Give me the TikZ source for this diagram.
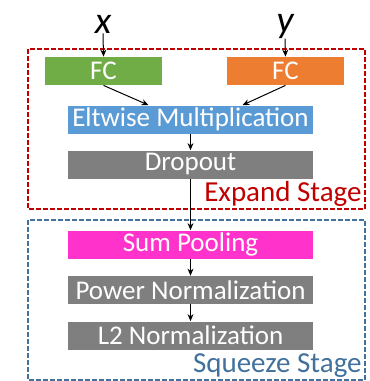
\documentclass[tikz,border=0pt]{standalone}
\usepackage{fontspec}
\setmainfont{Carlito}
\usetikzlibrary{arrows.meta,calc}

\definecolor{fcgreen}{HTML}{70AD47}
\definecolor{fcorange}{HTML}{ED7D31}
\definecolor{eltblue}{HTML}{5B9BD5}
\definecolor{boxgray}{HTML}{7F7F7F}
\definecolor{poolpink}{HTML}{FF33CC}
\definecolor{expandred}{HTML}{C00000}
\definecolor{squeezeblue}{HTML}{41719C}

\tikzset{
  box/.style={fill=#1, text=white, minimum width=122.5pt, minimum height=14pt,
              inner sep=0pt, font=\fontsize{13.5}{15}\selectfont},
  fcbox/.style={box=#1, minimum width=58.5pt},
  arr/.style={-{Stealth[length=3.5pt,width=3pt]}, line width=0.5pt},
  stage/.style={dashed, dash pattern=on 2.5pt off 1pt, line width=0.9pt},
  stagelabel/.style={anchor=south east, inner sep=0pt, font=\fontsize{14.5}{16}\selectfont}
}

\begin{document}
\begin{tikzpicture}[x=0.5pt,y=-0.5pt]

    \useasboundingbox (0,0) rectangle (370,381);

    %----- STAGE FRAMES -----
    \draw[stage, expandred] (28,49) rectangle (365,209);
    \draw[stage, squeezeblue] (28,220) rectangle (365,380);
    \node[stagelabel, text=expandred] (expand) at (362,207) {Expand Stage};
    \node[stagelabel, text=squeezeblue] (squeeze) at (362,378) {Squeeze Stage};

    %----- INPUTS -----
    \node[inner sep=0pt, font=\fontsize{19}{20}\selectfont\itshape] (x) at (103,24) {x};
    \node[inner sep=0pt, font=\fontsize{19}{20}\selectfont\itshape] (y) at (285,26) {y};

    %----- EXPAND STAGE -----
    \node[fcbox=fcgreen] (fcx) at (103.5,71) {FC};
    \node[fcbox=fcorange] (fcy) at (285.5,71) {FC};
    \node[box=eltblue] (elt) at (190.5,119.5) {Eltwise Multiplication};
    \node[box=boxgray] (drop) at (190.5,164.5) {Dropout};

    %----- SQUEEZE STAGE -----
    \node[box=poolpink] (pool) at (190.5,244.5) {Sum Pooling};
    \node[box=boxgray] (power) at (190.5,290) {Power Normalization};
    \node[box=boxgray] (ltwo) at (190.5,335.5) {L2 Normalization};

    %----- CONNECTIONS -----
    \draw[arr] (x.south) -- (fcx.north);
    \draw[arr] (y.south) -- (fcy.north);
    \draw[arr] (fcx.south) -- ($(elt.north)+(-42,0)$);
    \draw[arr] (fcy.south) -- ($(elt.north)+(52,0)$);
    \draw[arr] (elt) -- (drop);
    \draw[arr] (drop) -- (pool);
    \draw[arr] (pool) -- (power);
    \draw[arr] (power) -- (ltwo);

\end{tikzpicture}
\end{document}
